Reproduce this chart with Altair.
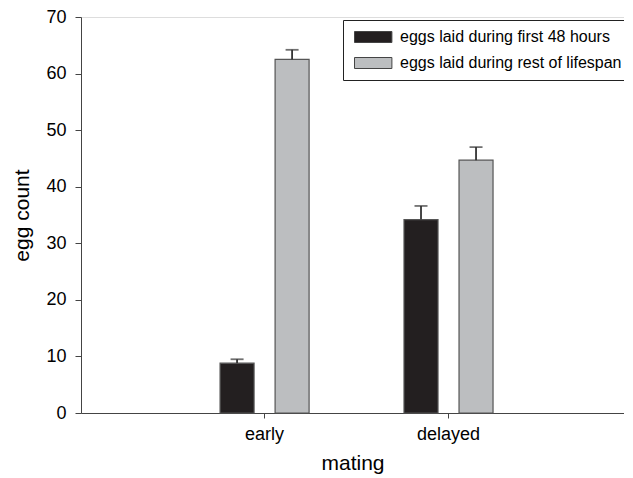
import altair as alt
import pandas as pd

matings = ["early", "early", "delayed", "delayed"]
periods = ["eggs laid during first 48 hours", "eggs laid during rest of lifespan",
           "eggs laid during first 48 hours", "eggs laid during rest of lifespan"]
means = [8.8, 62.5, 34.2, 44.7]
upper = [9.5, 64.2, 36.6, 47.0]

period_order = ["eggs laid during first 48 hours", "eggs laid during rest of lifespan"]
mating_order = ["early", "delayed"]
colors = ["#231f20", "#bcbec0"]

df = pd.DataFrame({"mating": matings, "period": periods, "mean": means, "upper": upper})

FONT = "Liberation Sans"

x_enc = alt.X("mating:N", sort=mating_order,
              scale=alt.Scale(paddingInner=0.516, paddingOuter=0.734, align=0.515),
              axis=alt.Axis(title="mating", labelAngle=0, labelFontSize=18, titleFontSize=21,
                            titleFontWeight="normal", labelColor="black", titleColor="black",
                            tickSize=5, labelPadding=7, titlePadding=9,
                            domainColor="#444", tickColor="#444", labelFont=FONT, titleFont=FONT))
xoff = alt.XOffset("period:N", sort=period_order,
                   scale=alt.Scale(paddingInner=0.382, paddingOuter=0))

y_axis = alt.Axis(title="egg count", values=[0, 10, 20, 30, 40, 50, 60, 70], grid=False,
                  labelFontSize=18, titleFontSize=21, titleFontWeight="normal",
                  labelColor="black", titleColor="black", tickSize=6, labelPadding=9,
                  titlePadding=13, domainColor="#444", tickColor="#444",
                  labelFont=FONT, titleFont=FONT)
y_scale = alt.Scale(domain=[0, 70], nice=False)

base = alt.Chart(df)

bars = base.mark_bar(stroke="#555", strokeWidth=1.2).encode(
    x=x_enc,
    xOffset=xoff,
    y=alt.Y("mean:Q", scale=y_scale, axis=y_axis),
    color=alt.Color("period:N", sort=period_order,
                    scale=alt.Scale(domain=period_order, range=colors),
                    legend=alt.Legend(
                        title=None, orient="none", legendX=262, legendY=3,
                        symbolType="M-1,-1L5.8,-1L5.8,1L-1,1Z", symbolSize=121,
                        symbolStrokeColor="#444", symbolStrokeWidth=1,
                        labelFontSize=16, labelFont=FONT, labelColor="black",
                        labelOffset=32, rowPadding=10, padding=9,
                        strokeColor="#222", fillColor="white",
                        labelLimit=400)),
)

stems = base.mark_rule(color="#333", strokeWidth=1.8).encode(
    x=x_enc, xOffset=xoff,
    y=alt.Y("mean:Q", scale=y_scale),
    y2="upper:Q",
)

caps = base.mark_tick(color="#333", thickness=1.8, size=13).encode(
    x=x_enc, xOffset=xoff,
    y=alt.Y("upper:Q", scale=y_scale),
)

chart = alt.layer(bars, stems, caps).properties(
    width=543, height=396,
    autosize=alt.AutoSizeParams(type="none"),
    padding={"left": 73, "top": 9, "right": 0, "bottom": 65},
).configure_view(stroke=None).configure(font=FONT)

chart.save("out.html", embed_options={"renderer": "svg", "actions": False})
